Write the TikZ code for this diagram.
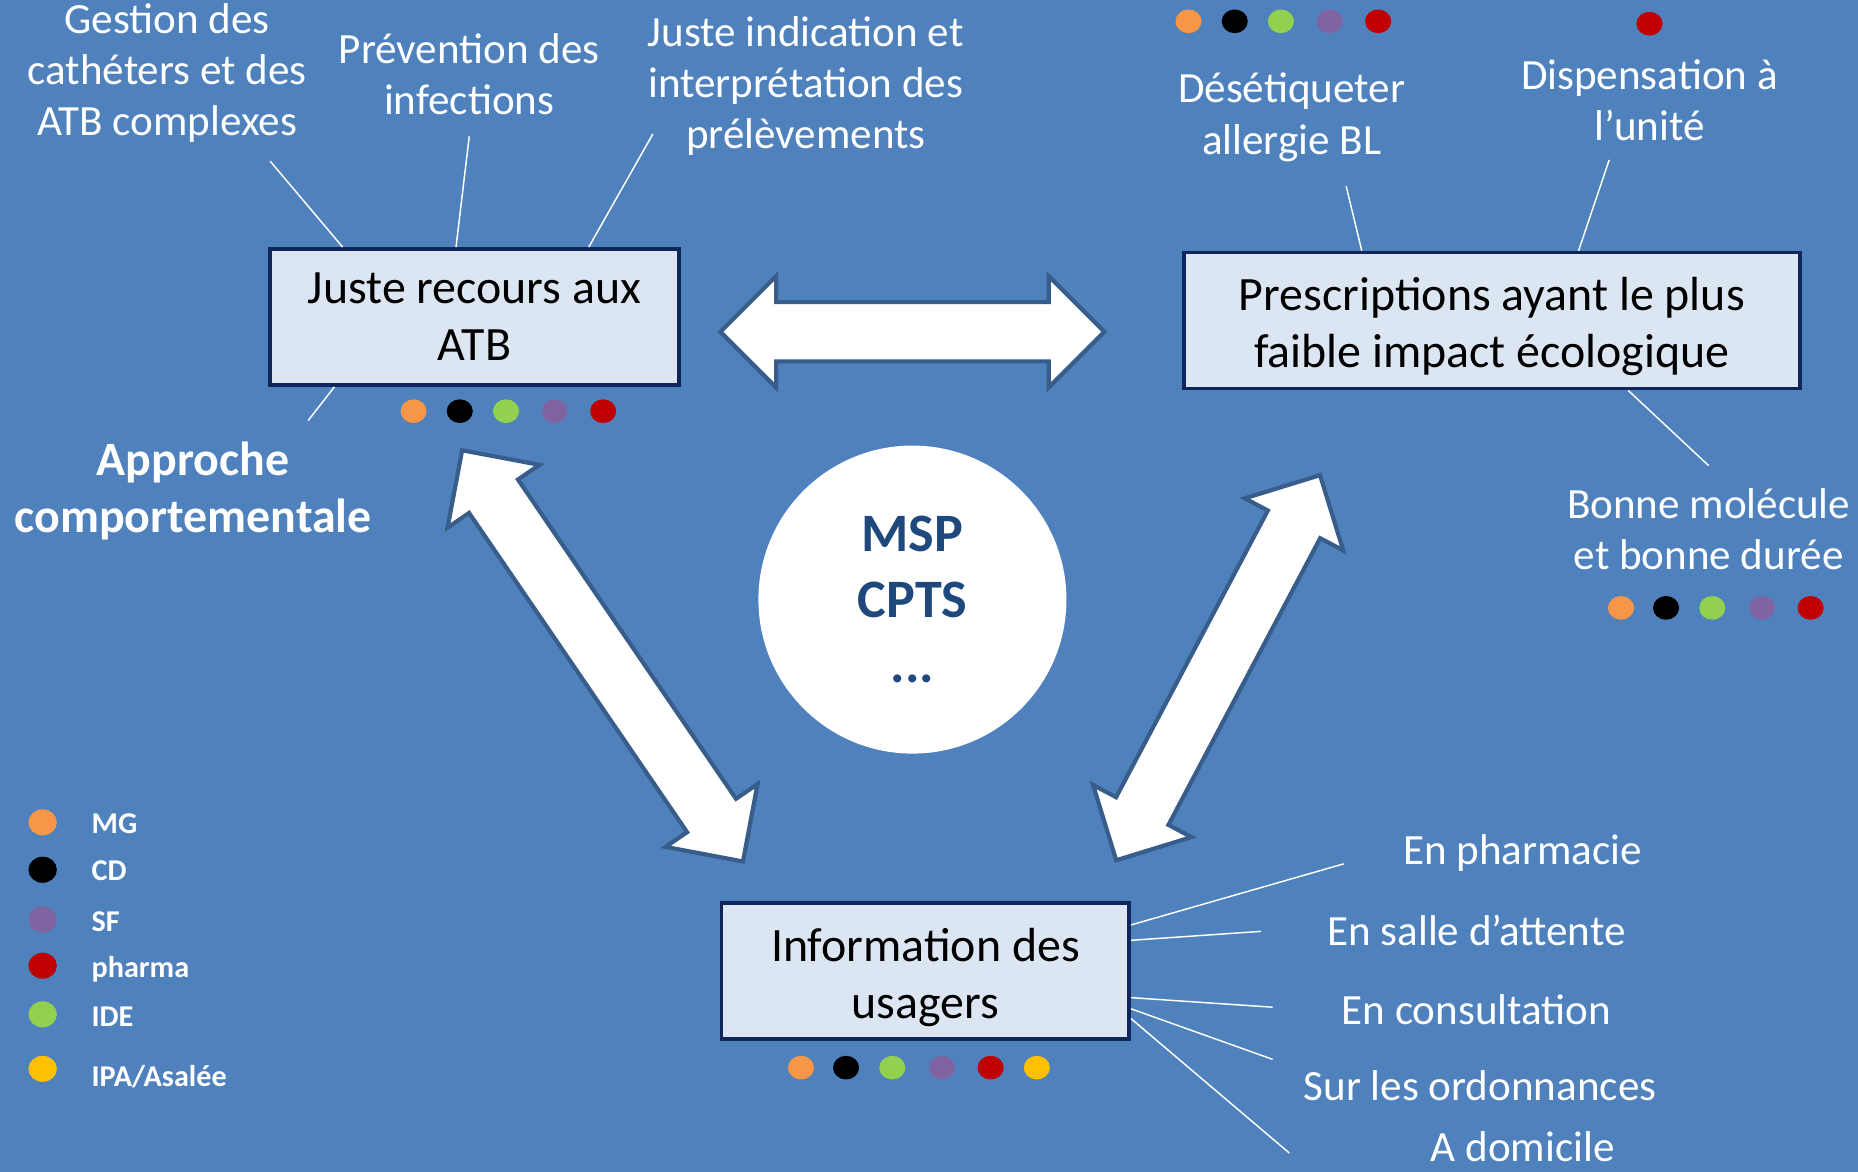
\documentclass[tikz,border=0pt]{standalone}
\usepackage{fontspec}
\setmainfont{Carlito}
\usetikzlibrary{calc,positioning}

\definecolor{slidebg}{HTML}{4F81BD}
\definecolor{boxfill}{HTML}{DCE6F2}
\definecolor{boxline}{HTML}{10265A}
\definecolor{arrowline}{HTML}{385D8A}
\definecolor{msptext}{HTML}{1F497D}
\definecolor{mg}{HTML}{F79646}
\definecolor{ide}{HTML}{92D050}
\definecolor{sf}{HTML}{8064A2}
\definecolor{pharma}{HTML}{C00000}
\definecolor{ipa}{HTML}{FFC000}

\tikzset{
box/.style={draw=boxline, line width=1.7pt, fill=boxfill, align=center, inner sep=0pt, minimum height=2.3cm, font=\fontsize{23}{27.3}\selectfont}, % the three themes
note/.style={text=white, align=center, inner sep=0pt, font=\fontsize{20.7}{24.5}\selectfont},
oneline/.style={text=white, inner sep=0pt, anchor=base, font=\fontsize{20.7}{24.5}\selectfont},
leader/.style={draw=white, line width=0.7pt},
bigarrow/.style={draw=arrowline, line width=2pt, fill=white},
legend/.style={text=white, anchor=base west, inner sep=0pt, font=\bfseries\fontsize{14.5}{16}\selectfont},
}

% fat double arrow between two coordinates
\newcommand{\fatarrow}[2]{%
  \coordinate (#1-b) at ($(#1)!0.94cm!(#2)$);
  \coordinate (#2-b) at ($(#2)!0.94cm!(#1)$);
  \draw[bigarrow] (#1)
    -- ($(#1-b)!0.94cm!90:(#2)$) -- ($(#1-b)!0.5cm!90:(#2)$)
    -- ($(#2-b)!0.5cm!-90:(#1)$) -- ($(#2-b)!0.94cm!-90:(#1)$)
    -- (#2)
    -- ($(#2-b)!0.94cm!90:(#1)$) -- ($(#2-b)!0.5cm!90:(#1)$)
    -- ($(#1-b)!0.5cm!-90:(#2)$) -- ($(#1-b)!0.94cm!-90:(#2)$)
    -- cycle;
}
% row of coloured dots
\newcommand{\dotrow}[3]{%
  \foreach \c/\dx in {#3}
    \fill[\c] (#1+\dx,#2) ellipse [x radius=11, y radius=10];
}

\begin{document}
\begin{tikzpicture}[x=0.02cm, y=-0.02cm]
  \clip (0,0) rectangle (1568,989);
  \fill[slidebg] (0,0) rectangle (1568,989);

  % fat arrows
  \coordinate (h1) at (608,280);
  \coordinate (h2) at (932,280);
  \coordinate (l1) at (390,380);
  \coordinate (l2) at (627,727);
  \coordinate (r1) at (1114,401);
  \coordinate (r2) at (942,726);
  \fatarrow{h1}{h2}
  \fatarrow{l1}{l2}
  \fatarrow{r1}{r2}

  \node[circle, fill=white, minimum size=5.2cm, inner sep=0pt, align=center, text=msptext,
        font=\bfseries\fontsize{26}{31.3}\selectfont] (msp) at (770,506) {MSP\\CPTS\\...};

  \node[box, minimum width=6.9cm] (atb) at (400.5,267.5) {Juste recours aux\\ATB};
  \node[box, minimum width=10.4cm] (eco) at (1259,270.5) {\rule{0pt}{0.95em}Prescriptions ayant le plus\\faible impact écologique};
  \node[box, minimum width=6.88cm] (info) at (781,819.5) {\rule{0pt}{0.95em}Information des\\usagers};

  % labels
  \node[note] (gestion) at (141,62) {Gestion des\\cathéters et des\\ATB complexes};
  \node[note] (prevention) at (396,63) {Prévention des\\infections};
  \node[note] (indication) at (680,73) {Juste indication et\\interprétation des\\prélèvements};
  \node[note, font=\bfseries\fontsize{23}{27.3}\selectfont] (approche) at (163,414) {Approche\\comportementale};
  \node[note] (desetiq) at (1090,99) {Désétiqueter\\allergie BL};
  \node[note] (dispens) at (1392,85) {Dispensation à\\l’unité};
  \node[note] (molecule) at (1442,447) {Bonne molécule\\et bonne durée};
  \node[note] (pharmacie) at (1285,720) {En pharmacie};
  \node[note] (salle) at (1246,785) {En salle d’attente};
  \node[note] (consult) at (1246,852) {En consultation};
  \node[note] (ordo) at (1249,916) {Sur les ordonnances};
  \node[oneline] (domicile) at (1285,980) {A domicile};

  % leader ends
  \coordinate (gestion-e) at (228,136);
  \coordinate (prevention-e) at (396,115);
  \coordinate (indication-e) at (551,113);
  \coordinate (approche-e) at (260,355);
  \coordinate (desetiq-e) at (1136,157);
  \coordinate (dispens-e) at (1358,135);
  \coordinate (molecule-e) at (1442,393);
  \coordinate (pharmacie-e) at (1134,729);
  \coordinate (salle-e) at (1064,786);
  \coordinate (consult-e) at (1074,850);
  \coordinate (ordo-e) at (1074,894);
  \coordinate (domicile-e) at (1088,973);

  \path[leader]
  (gestion-e) -- ($(atb.north west)!0.18!(atb.north east)$)
  (prevention-e) -- ($(atb.north west)!0.455!(atb.north east)$)
  (indication-e) -- ($(atb.north west)!0.777!(atb.north east)$)
  (approche-e) -- ($(atb.south west)!0.16!(atb.south east)$)
  (desetiq-e) -- ($(eco.north west)!0.29!(eco.north east)$)
  (dispens-e) -- ($(eco.north west)!0.64!(eco.north east)$)
  (molecule-e) -- ($(eco.south west)!0.72!(eco.south east)$)
  (pharmacie-e) -- ($(info.north east)!0.17!(info.south east)$)
  (salle-e) -- ($(info.north east)!0.28!(info.south east)$)
  (consult-e) -- ($(info.north east)!0.69!(info.south east)$)
  (ordo-e) -- ($(info.north east)!0.77!(info.south east)$)
  (domicile-e) -- ($(info.north east)!0.84!(info.south east)$);

  % who is involved
  \dotrow{349}{347}{mg/0, black/39, ide/78, sf/119, pharma/160}
  \dotrow{1003}{18}{mg/0, black/39, ide/78, sf/119, pharma/160}
  \dotrow{1392}{20}{pharma/0}
  \dotrow{1368}{513}{mg/0, black/38, ide/77, sf/119, pharma/160}
  \dotrow{676}{901}{mg/0, black/38, ide/77, sf/119, pharma/160, ipa/199}

  % legend
  \foreach \c/\t/\y/\ty [count=\i] in {mg/MG/694/694, black/CD/734/734, sf/SF/776/777,
      pharma/pharma/815/816, ide/IDE/856/857, ipa/{IPA/Asalée}/902/908}{
    \fill[\c] (36,\y) ellipse [x radius=12, y radius=11];
    \node[legend] (leg-\i) at (77,\ty+9) {\t};
  }
\end{tikzpicture}
\end{document}
